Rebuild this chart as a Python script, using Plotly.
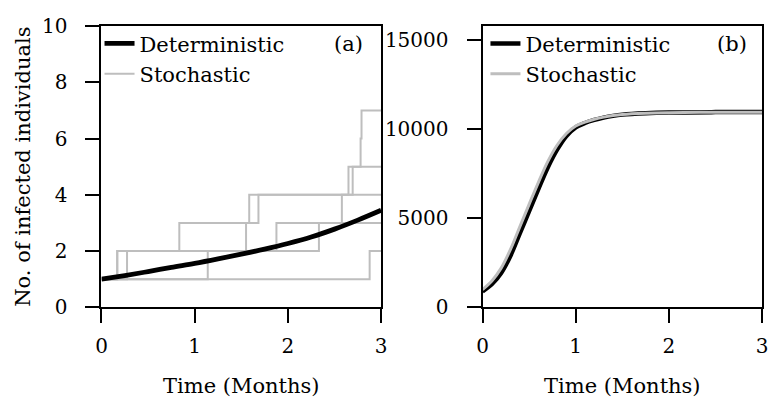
import plotly.graph_objects as go

# ---------------- data ----------------
# Panel (a): deterministic curve
det_a_t = [0, 0.25, 0.5, 0.75, 1.0, 1.25, 1.5, 1.75, 2.0, 2.25, 2.5, 2.75, 3.0]
det_a_y = [1.0, 1.13, 1.27, 1.42, 1.56, 1.72, 1.89, 2.07, 2.27, 2.50, 2.78, 3.10, 3.45]

# Panel (a): stochastic step runs (jump times, levels)
run1_t = [0, 0.168, 0.835, 1.585, 2.65, 2.78, 2.79, 3.0]
run1_y = [1, 2, 3, 4, 5, 6, 7, 7]
run2_t = [0, 0.274, 1.551, 1.684, 2.695, 3.0]
run2_y = [1, 2, 3, 4, 5, 5]
run3_t = [0, 0.17, 1.877, 2.579, 3.0]
run3_y = [1, 2, 3, 4, 4]
run4_t = [0, 1.14, 2.333, 3.0]
run4_y = [1, 2, 3, 3]
run5_t = [0, 2.877, 3.0]
run5_y = [1, 2, 2]

# Panel (b): deterministic and stochastic curves
t_b = [0, 0.1, 0.2, 0.3, 0.4, 0.5, 0.6, 0.7, 0.8, 0.9, 1.0, 1.1, 1.2, 1.3, 1.4, 1.5, 1.75, 2.0, 2.5, 3.0]
det_b = [900, 1300, 1930, 2900, 4150, 5400, 6650, 7850, 8850, 9620, 10100, 10350, 10520, 10650,
         10750, 10820, 10900, 10940, 10960, 10960]
sto_b = [1000, 1480, 2200, 3250, 4520, 5780, 7020, 8180, 9100, 9760, 10180, 10400, 10560, 10680,
         10770, 10830, 10900, 10930, 10950, 10950]

x_ticks = [0, 1, 2, 3]
ya_ticks = [0, 2, 4, 6, 8, 10]
yb_ticks = [0, 5000, 10000, 15000]
yb_labels = ["0", "5000", "10000", "15000"]

GRAY = "#bebebe"
TXT = "DejaVu Serif"

fig = go.Figure()

runs = [(run1_t, run1_y), (run2_t, run2_y), (run3_t, run3_y), (run4_t, run4_y), (run5_t, run5_y)]
for i, (tt, yy) in enumerate(runs):
    fig.add_trace(go.Scatter(x=tt, y=yy, mode="lines", line=dict(color=GRAY, width=2, shape="hv"),
                             name="Stochastic", legendgroup="sa", showlegend=(i == 0),
                             legend="legend", legendrank=2, xaxis="x", yaxis="y"))
fig.add_trace(go.Scatter(x=det_a_t, y=det_a_y, mode="lines", line=dict(color="black", width=4.8, shape="spline"),
                         name="Deterministic", legend="legend", legendrank=1, xaxis="x", yaxis="y"))

fig.add_trace(go.Scatter(x=t_b, y=det_b, mode="lines", line=dict(color="black", width=4.5, shape="spline"),
                         name="Deterministic", legend="legend2", legendrank=1, xaxis="x2", yaxis="y2"))
fig.add_trace(go.Scatter(x=t_b, y=sto_b, mode="lines", line=dict(color=GRAY, width=3, shape="spline"),
                         name="Stochastic", legend="legend2", legendrank=2, xaxis="x2", yaxis="y2"))

ax_common = dict(showgrid=False, zeroline=False, showline=True, linecolor="black", linewidth=2,
                 mirror=True, ticks="outside", ticklen=14, tickwidth=2, tickcolor="black",
                 tickfont=dict(family=TXT, size=20, color="black"))

ydom = [1 - 314 / 403, 1 - 15 / 403]
fig.update_layout(
    width=775, height=403, margin=dict(l=0, r=0, t=0, b=0),
    paper_bgcolor="white", plot_bgcolor="white",
    font=dict(family=TXT, size=21, color="black"),
    xaxis=dict(domain=[97 / 775, 381 / 775], range=[0, 3], tickvals=x_ticks, anchor="y",
               title=dict(text="Time (Months)", font=dict(family=TXT, size=21), standoff=21),
               ticklabelstandoff=6, **ax_common),
    yaxis=dict(domain=ydom, range=[0, 10], tickvals=ya_ticks, anchor="x",
               title=dict(text="No. of infected individuals", font=dict(family=TXT, size=21), standoff=6),
               ticklabelstandoff=14, **ax_common),
    xaxis2=dict(domain=[484 / 775, 768 / 775], range=[0, 3], tickvals=x_ticks, anchor="y2",
                title=dict(text="Time (Months)", font=dict(family=TXT, size=21), standoff=21),
                ticklabelstandoff=6, **ax_common),
    yaxis2=dict(domain=ydom, range=[0, 15790], tickvals=yb_ticks, ticktext=yb_labels, anchor="x2",
                ticklabelstandoff=14, **ax_common),
    legend=dict(x=95 / 775, y=1 - 12 / 403, xanchor="left", yanchor="top", bgcolor="rgba(0,0,0,0)",
                font=dict(family=TXT, size=21), tracegroupgap=0, itemwidth=30),
    legend2=dict(x=487 / 775, y=1 - 12 / 403, xanchor="left", yanchor="top", bgcolor="rgba(0,0,0,0)",
                 font=dict(family=TXT, size=21), tracegroupgap=0, itemwidth=30),
    showlegend=True,
    annotations=[
        dict(text="(a)", xref="x domain", yref="y domain", x=0.882, y=0.935, showarrow=False,
             xanchor="center", yanchor="middle", font=dict(family=TXT, size=21)),
        dict(text="(b)", xref="x2 domain", yref="y2 domain", x=0.8926, y=0.935, showarrow=False,
             xanchor="center", yanchor="middle", font=dict(family=TXT, size=21)),
    ],
)

fig.write_html("out.html")
